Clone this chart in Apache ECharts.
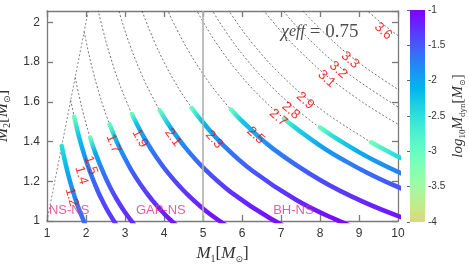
<!DOCTYPE html>
<html><head><meta charset="utf-8">
<script src="https://cdn.jsdelivr.net/npm/echarts/dist/echarts.min.js"></script>
<style>html,body{margin:0;padding:0;background:#fff}#c{width:469px;height:264px}</style>
</head><body><div id="c"></div>
<script>
// ---------- data: chirp-mass contours [M1, M2] ----------
const contour_1_2 = [[1.378,1.378],[1.453,1.308],[1.543,1.234],[1.653,1.157],[1.791,1.075],[1.973,0.986]];
const contour_1_4 = [[1.608,1.608],[1.696,1.526],[1.800,1.440],[1.928,1.350],[2.090,1.254],[2.301,1.151],[2.435,1.096],[2.595,1.038],[2.791,0.977]];
const contour_1_5 = [[1.723,1.723],[1.817,1.635],[1.929,1.543],[2.066,1.446],[2.239,1.343],[2.466,1.233],[2.609,1.174],[2.780,1.112],[2.990,1.047],[3.255,0.977]];
const contour_1_7 = [[1.953,1.953],[2.059,1.853],[2.186,1.749],[2.341,1.639],[2.537,1.523],[2.794,1.397],[2.957,1.331],[3.151,1.260],[3.389,1.186],[3.690,1.107],[4.084,1.021],[4.631,0.926]];
const contour_1_9 = [[2.183,2.183],[2.301,2.071],[2.443,1.955],[2.617,1.832],[2.836,1.702],[3.123,1.562],[3.305,1.487],[3.522,1.409],[3.788,1.326],[4.124,1.237],[4.564,1.141],[5.176,1.035],[6.099,0.915]];
const contour_2_1 = [[2.544,2.289],[2.700,2.160],[2.892,2.025],[3.134,1.881],[3.452,1.726],[3.653,1.644],[3.892,1.557],[4.187,1.465],[4.558,1.367],[5.045,1.261],[5.721,1.144],[6.741,1.011],[7.666,0.920]];
const contour_2_3 = [[2.958,2.366],[3.168,2.217],[3.433,2.060],[3.781,1.890],[4.000,1.800],[4.263,1.705],[4.585,1.605],[4.992,1.498],[5.525,1.381],[6.265,1.253],[7.383,1.107],[8.396,1.008],[9.333,0.933]];
const contour_2_5 = [[3.443,2.410],[3.732,2.239],[4.110,2.055],[4.348,1.957],[4.634,1.854],[4.984,1.745],[5.426,1.628],[6.006,1.502],[6.810,1.362],[8.025,1.204],[9.127,1.095],[10.144,1.015]];
const contour_2_7 = [[4.030,2.418],[4.438,2.219],[4.696,2.113],[5.004,2.002],[5.383,1.884],[5.860,1.758],[6.486,1.622],[7.355,1.471],[8.067,1.371],[8.667,1.300],[9.208,1.243],[9.857,1.183],[10.956,1.096]];
const contour_2_8 = [[4.603,2.301],[4.870,2.192],[5.190,2.076],[5.582,1.954],[6.077,1.823],[6.726,1.682],[7.627,1.525],[8.366,1.422],[8.988,1.348],[9.549,1.289],[10.222,1.227]];
const contour_2_9 = [[4.767,2.384],[5.044,2.270],[5.375,2.150],[5.781,2.024],[6.294,1.888],[6.967,1.742],[7.900,1.580],[9.309,1.396],[9.890,1.335],[10.587,1.271]];
const contour_3_1 = [[6.180,2.163],[6.728,2.018],[7.447,1.862],[8.445,1.689],[9.951,1.493],[11.317,1.358]];
const contour_3_2 = [[6.380,2.233],[6.945,2.084],[7.687,1.922],[8.717,1.743],[10.272,1.541]];
const contour_3_3 = [[7.162,2.149],[7.928,1.982],[8.990,1.798],[10.593,1.589]];
const contour_3_6 = [[8.648,2.162],[9.807,1.961],[11.556,1.733]];

// ---------- data: thick tracks [M1, M2, log10 Mdyn] ----------
const track_1_2 = [[1.378,1.378,-2.5],[1.453,1.308,-2.25],[1.543,1.234,-2.0],[1.653,1.157,-1.82],[1.791,1.075,-1.68],[1.973,0.986,-1.6]];
const track_1_4 = [[1.696,1.526,-3.1],[1.800,1.440,-2.3],[1.928,1.350,-1.95],[2.090,1.254,-1.7],[2.301,1.151,-1.5],[2.435,1.096,-1.4],[2.595,1.038,-1.32],[2.791,0.977,-1.28]];
const track_1_5 = [[2.107,1.420,-3.0],[2.239,1.343,-2.05],[2.466,1.233,-1.65],[2.609,1.174,-1.5],[2.780,1.112,-1.37],[2.990,1.047,-1.27],[3.255,0.977,-1.2]];
const track_1_7 = [[2.607,1.486,-3.0],[2.794,1.397,-2.05],[2.957,1.331,-1.8],[3.151,1.260,-1.58],[3.389,1.186,-1.4],[3.690,1.107,-1.27],[4.084,1.021,-1.15],[4.631,0.926,-1.1]];
const track_1_9 = [[3.178,1.538,-3.0],[3.305,1.487,-2.2],[3.522,1.409,-1.85],[3.788,1.326,-1.62],[4.124,1.237,-1.45],[4.564,1.141,-1.28],[5.176,1.035,-1.12],[6.099,0.915,-1.05]];
const track_2_1 = [[3.892,1.557,-3.0],[4.187,1.465,-2.05],[4.558,1.367,-1.75],[5.045,1.261,-1.5],[5.721,1.144,-1.28],[6.741,1.011,-1.08],[7.666,0.920,-1.0]];
const track_2_3 = [[4.712,1.569,-3.0],[4.992,1.498,-2.15],[5.525,1.381,-1.75],[6.265,1.253,-1.5],[7.383,1.107,-1.22],[8.396,1.008,-1.05],[9.333,0.933,-1.0]];
const track_2_5 = [[5.718,1.561,-3.0],[6.006,1.502,-2.25],[6.810,1.362,-1.75],[8.025,1.204,-1.42],[9.127,1.095,-1.22],[10.144,1.015,-1.1]];
const track_2_7 = [[7.079,1.515,-3.0],[7.355,1.471,-2.4],[8.067,1.371,-1.95],[8.667,1.300,-1.75],[9.208,1.243,-1.6],[9.857,1.183,-1.48],[10.956,1.096,-1.35]];
const track_2_8 = [[7.997,1.471,-3.0],[8.366,1.422,-2.45],[8.988,1.348,-2.05],[9.549,1.289,-1.85],[10.222,1.227,-1.7]];
const track_2_9 = [[9.309,1.396,-3.1],[9.890,1.335,-2.5],[10.587,1.271,-2.2]];

// ---------- contour labels ----------
const labelText = ['1.2','1.4','1.5','1.7','1.9','2.1','2.3','2.5','2.7','2.8','2.9','3.1','3.2','3.3','3.6'];
const labelM1   = [1.63, 1.88, 2.12, 2.70, 3.38, 4.23, 5.28, 6.35, 6.93, 7.25, 7.62, 8.17, 8.47, 8.77, 9.62];
const labelM2   = [1.12, 1.23, 1.28, 1.39, 1.416,1.42, 1.41, 1.43, 1.52, 1.555,1.605,1.715,1.76, 1.81, 1.955];

// ---------- region annotations ----------
const regionNames = ['NS-NS','GAP-NS','BH-NS'];
const regionM1 = [1.05, 3.28, 6.80];
const regionM2 = [1.055, 1.055, 1.055];
const chiText = ['χ', 'eff', ' = 0.75'];
const chiPos = [7.0, 1.95];
const gapBoundaryM1 = [5];
const equalMassLine = [[1,1],[2.1,2.1]];

// ---------- axes ----------
const xRange = [1, 10], xStep = 1;
const yRange = [1, 2.057], yStep = 0.2;
const cbRange = [-4, -1], cbStep = 0.5;

const contours = [contour_1_2,contour_1_4,contour_1_5,contour_1_7,contour_1_9,contour_2_1,contour_2_3,contour_2_5,contour_2_7,contour_2_8,contour_2_9,contour_3_1,contour_3_2,contour_3_3,contour_3_6];
const tracks = [track_1_2,track_1_4,track_1_5,track_1_7,track_1_9,track_2_1,track_2_3,track_2_5,track_2_7,track_2_8,track_2_9];

const serif = "'Liberation Serif','DejaVu Serif',serif";
const sans = "'Liberation Sans','DejaVu Sans',sans-serif";
const axisGray = '#7a7a7a';

function rainbow(x){
  const r = Math.min(1,Math.abs(2*x-0.5)), g = Math.sin(Math.PI*x), b = Math.cos(Math.PI*x/2);
  return 'rgb(' + Math.round(r*255) + ',' + Math.round(g*255) + ',' + Math.round(Math.max(0,b)*255) + ')';
}
function cmap(v){
  const t = Math.min(1, Math.max(0, (cbRange[1]-v)/(cbRange[1]-cbRange[0])));
  return rainbow(t*0.68);
}

const chart = echarts.init(document.getElementById('c'), null, {renderer:'canvas'});

const nameRich = {
  i:{fontFamily:serif, fontStyle:'italic', fontSize:17, color:'#333', lineHeight:20},
  n:{fontFamily:serif, fontSize:17, color:'#333', lineHeight:20},
  s:{fontFamily:serif, fontSize:10, color:'#333', lineHeight:6, verticalAlign:'bottom'},
  o:{fontFamily:"'DejaVu Sans',sans-serif", fontSize:9, color:'#333', lineHeight:6, verticalAlign:'bottom'}
};
const cbRich = {
  i:{fontFamily:serif, fontStyle:'italic', fontSize:15, color:'#333', lineHeight:18},
  n:{fontFamily:serif, fontSize:15, color:'#333', lineHeight:18},
  s:{fontFamily:serif, fontSize:9, color:'#333', lineHeight:6, verticalAlign:'bottom'},
  o:{fontFamily:"'DejaVu Sans',sans-serif", fontSize:8, color:'#333', lineHeight:6, verticalAlign:'bottom'}
};

function mainAxis(extra){
  return Object.assign({
    type:'value', gridIndex:0,
    axisLine:{show:true, onZero:false, lineStyle:{color:axisGray, width:1.3}},
    axisTick:{show:true, inside:true, length:6, lineStyle:{color:axisGray, width:1.3}},
    splitLine:{show:false},
    axisLabel:{show:true, color:'#333', fontFamily:sans, fontSize:12, margin:7}
  }, extra);
}

const series = [];
contours.forEach(function(c){
  series.push({type:'line', data:c, xAxisIndex:0, yAxisIndex:0, showSymbol:false, smooth:0.4, silent:true,
    lineStyle:{color:'#3a3a3a', width:0.7, type:[2,2]}, z:2, animation:false});
});
series.push({type:'line', data:equalMassLine, xAxisIndex:0, yAxisIndex:0, showSymbol:false, silent:true,
  lineStyle:{color:'#555', width:0.7, type:[2,2]}, z:2, animation:false,
  markLine:{silent:true, symbol:'none', animation:false, label:{show:false},
    lineStyle:{color:'#b0b0b0', width:1.6, type:'solid'}, data:gapBoundaryM1.map(function(v){return {xAxis:v};})}
});
const trackStart = series.length;
tracks.forEach(function(t){
  series.push({type:'line', data:t.map(function(p){return [p[0],p[1]];}), xAxisIndex:0, yAxisIndex:0,
    showSymbol:false, smooth:0.4, silent:true, lineStyle:{width:4.5, cap:'round', color:'#4060f0'}, z:3, animation:false});
});
const labelIdx = series.length;
series.push({type:'scatter', xAxisIndex:0, yAxisIndex:0, symbolSize:0, silent:true, z:6, animation:false,
  data: labelText.map(function(t,i){return {value:[labelM1[i], labelM2[i]], name:t};}),
  label:{show:true, position:'inside', formatter:function(p){return p.name;}, color:'#ff0000', fontFamily:sans, fontSize:13.5}
});
series.push({type:'scatter', xAxisIndex:0, yAxisIndex:0, symbolSize:0, silent:true, z:6, animation:false,
  data: regionNames.map(function(t,i){return {value:[regionM1[i], regionM2[i]], name:t};}),
  label:{show:true, position:'right', distance:0, formatter:function(p){return p.name;}, color:'#e3338b', fontFamily:sans, fontSize:13}
});
series.push({type:'scatter', xAxisIndex:0, yAxisIndex:0, symbolSize:0, silent:true, z:6, animation:false,
  data:[{value:chiPos}],
  label:{show:true, position:'right', distance:0,
    formatter:'{i|' + chiText[0] + '}{e|' + chiText[1] + '}{n|' + chiText[2] + '}',
    rich:{
      i:{fontFamily:serif, fontStyle:'italic', fontSize:18, color:'#222'},
      e:{fontFamily:serif, fontStyle:'italic', fontSize:16, color:'#222'},
      n:{fontFamily:serif, fontSize:19, color:'#222'}
    }}
});
// colorbar
series.push({type:'custom', xAxisIndex:2, yAxisIndex:2, silent:true, animation:false,
  data:[[0, cbRange[0], 1, cbRange[1]]],
  renderItem:function(params, api){
    const p0 = api.coord([api.value(0), api.value(1)]);
    const p1 = api.coord([api.value(2), api.value(3)]);
    const stops = [];
    for (let k=0;k<=30;k++){ const v = cbRange[0] + (cbRange[1]-cbRange[0])*k/30; stops.push({offset:k/30, color:cmap(v)}); }
    return {type:'rect', shape:{x:p0[0], y:p1[1], width:p1[0]-p0[0], height:p0[1]-p1[1]},
      style:{fill:new echarts.graphic.LinearGradient(0,1,0,0,stops)}};
  }
});

const option = {
  animation:false,
  backgroundColor:'#fff',
  grid:[
    {left:47, right:71, top:11, bottom:43, outerBoundsMode:'none', containLabel:false},
    {left:410, width:15, top:10, height:212, outerBoundsMode:'none', containLabel:false}
  ],
  xAxis:[
    mainAxis({min:xRange[0], max:xRange[1], interval:xStep, position:'bottom',
      name:'{i|M}{s|1}{n|[}{i|M}{o|⊙}{n|]}', nameLocation:'middle', nameGap:23,
      nameTextStyle:{rich:nameRich}}),
    mainAxis({min:xRange[0], max:xRange[1], interval:xStep, position:'top', axisLabel:{show:false}}),
    {type:'value', gridIndex:1, min:0, max:1, show:false}
  ],
  yAxis:[
    mainAxis({min:yRange[0], max:yRange[1], interval:yStep, position:'left',
      axisLabel:{show:true, color:'#333', fontFamily:sans, fontSize:12, margin:7, showMaxLabel:false,
        formatter:function(v){return Math.abs(v*5-Math.round(v*5))<1e-6 ? String(Math.round(v*10)/10) : '';}},
      name:'{i|M}{s|2}{n|[}{i|M}{o|⊙}{n|]}', nameLocation:'middle', nameGap:29, nameRotate:90,
      nameTextStyle:{rich:nameRich}}),
    mainAxis({min:yRange[0], max:yRange[1], interval:yStep, position:'right', axisLabel:{show:false}}),
    {type:'value', gridIndex:1, min:cbRange[0], max:cbRange[1], interval:cbStep, position:'right',
      axisLine:{show:false}, splitLine:{show:false},
      axisTick:{show:true, inside:true, length:3, lineStyle:{color:'#666', width:1}},
      axisLabel:{show:true, color:'#333', fontFamily:sans, fontSize:10, margin:3},
      name:'{i|log}{s|10}{i|M}{s|dyn}{n|[}{i|M}{o|⊙}{n|]}', nameLocation:'middle', nameGap:24, nameRotate:90,
      nameTextStyle:{rich:cbRich}}
  ],
  series:series
};
chart.setOption(option);

// colour gradients along each track, using the axes' pixel mapping
tracks.forEach(function(t, k){
  const px = t.map(function(p){return chart.convertToPixel({xAxisIndex:0, yAxisIndex:0}, [p[0],p[1]]);});
  const A = px[0], B = px[px.length-1];
  const dx = B[0]-A[0], dy = B[1]-A[1], L2 = dx*dx+dy*dy;
  let last = -1;
  const stops = [];
  px.forEach(function(P, i){
    let o = ((P[0]-A[0])*dx + (P[1]-A[1])*dy)/L2;
    o = Math.min(1, Math.max(last + 1e-4, o)); last = o;
    stops.push({offset:Math.min(1,o), color:cmap(t[i][2])});
  });
  option.series[trackStart+k].lineStyle.color = new echarts.graphic.LinearGradient(A[0],A[1],B[0],B[1],stops,true);
});
// label rotation following contour direction
option.series[labelIdx].data.forEach(function(d, i){
  const c = contours[i];
  let j = 0;
  while (j < c.length-2 && c[j+1][0] < labelM1[i]) j++;
  const p1 = chart.convertToPixel({xAxisIndex:0, yAxisIndex:0}, c[j]);
  const p2 = chart.convertToPixel({xAxisIndex:0, yAxisIndex:0}, c[j+1]);
  const ang = -Math.atan2(p2[1]-p1[1], p2[0]-p1[0]) * 180/Math.PI;
  d.label = {rotate: ang};
});
chart.setOption(option, true);
</script></body></html>
